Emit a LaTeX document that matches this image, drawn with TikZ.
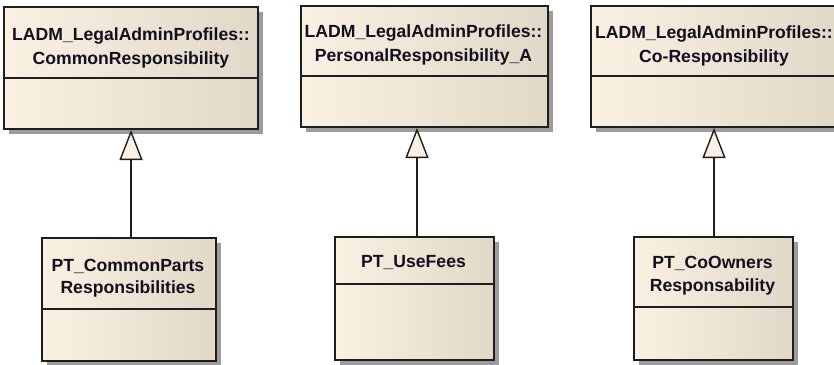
\documentclass[tikz,border=0pt]{standalone}
\usepackage{fontspec}
\setmainfont{Liberation Sans}
\usetikzlibrary{arrows.meta,shadows}
\definecolor{cream}{HTML}{FAF1E3}
\definecolor{beige}{HTML}{E2D8C7}
\definecolor{edge}{HTML}{1E1E1E}
\definecolor{shade}{HTML}{9C9C9C}
\definecolor{ink}{HTML}{101020}
\tikzset{
  classbox/.style={draw=edge, line width=2pt, rectangle, anchor=north west,
    left color=cream, right color=beige, inner sep=0pt,
    drop shadow={shadow xshift=4.5pt, shadow yshift=-4.5pt, fill=shade, opacity=1}},
  divider/.style={draw=edge, line width=2pt},
  title/.style={font=\bfseries\fontsize{17.6}{24}\selectfont, text=ink, align=center, inner sep=0pt},
  subtitle/.style={font=\bfseries\fontsize{17.6}{22.5}\selectfont, text=ink, align=center, inner sep=0pt},
  gen/.style={draw=edge, line width=1.6pt,
    -{Triangle[length=30pt, width=23pt, fill=cream, line width=1.4pt]}}
}
\begin{document}
\begin{tikzpicture}[x=1pt, y=-1pt]
\path[use as bounding box] (0,0) rectangle (834,364);
\begin{scope}
\clip (0,0) rectangle (834,364);
% top classes
\node[classbox, minimum width=254pt, minimum height=122pt] (c1) at (3,6) {};
\node[classbox, minimum width=247pt, minimum height=121pt] (c2) at (300,5) {};
\node[classbox, minimum width=248pt, minimum height=121pt] (c3) at (590,5) {};
% bottom classes
\node[classbox, minimum width=174pt, minimum height=123pt] (s1) at (41,237) {};
\node[classbox, minimum width=159pt, minimum height=123pt] (s2) at (334,236) {};
\node[classbox, minimum width=159pt, minimum height=123pt] (s3) at (633,236) {};
% dividers
\coordinate (d1) at (0,78);
\coordinate (d2) at (0,76);
\coordinate (d3) at (0,76);
\coordinate (e1) at (0,309);
\coordinate (e2) at (0,284);
\coordinate (e3) at (0,307);
\draw[divider] (c1.west |- d1) -- (c1.east |- d1);
\draw[divider] (c2.west |- d2) -- (c2.east |- d2);
\draw[divider] (c3.west |- d3) -- (c3.east |- d3);
\draw[divider] (s1.west |- e1) -- (s1.east |- e1);
\draw[divider] (s2.west |- e2) -- (s2.east |- e2);
\draw[divider] (s3.west |- e3) -- (s3.east |- e3);
% names
\node[title] (t1) at (131,47.5) {LADM\_LegalAdminProfiles::\\CommonResponsibility};
\node[title] (t2) at (423.5,44.5) {LADM\_LegalAdminProfiles::\\PersonalResponsibility\_A};
\node[title] (t3) at (714,45.5) {LADM\_LegalAdminProfiles::\\Co-Responsibility};
\node[subtitle] (u1) at (128,278) {PT\_CommonParts\\Responsibilities};
\node[subtitle] (u2) at (413.5,263) {PT\_UseFees};
\node[subtitle] (u3) at (712.5,275.5) {PT\_CoOwners\\Responsability};
% generalisations
\coordinate (x1) at (131,0);
\coordinate (x2) at (417,0);
\coordinate (x3) at (714,0);
\draw[gen] (s1.north -| x1) -- (c1.south -| x1);
\draw[gen] (s2.north -| x2) -- (c2.south -| x2);
\draw[gen] (s3.north -| x3) -- (c3.south -| x3);
\end{scope}
\end{tikzpicture}
\end{document}
